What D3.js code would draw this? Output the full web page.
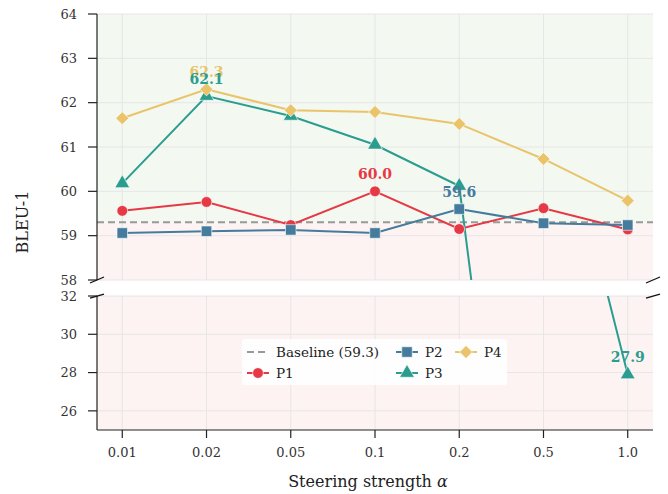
<!DOCTYPE html>
<html>
<head>
<meta charset="utf-8">
<script src="https://d3js.org/d3.v7.min.js"></script>
<style>
  body { margin: 0; background: #fff; }
  svg text { font-family: "DejaVu Serif", serif; }
</style>
</head>
<body>
<div id="chart"></div>
<script>
// data
var alphas = ["0.01", "0.02", "0.05", "0.1", "0.2", "0.5", "1.0"];
var p1 = [59.56, 59.76, 59.24, 60.0, 59.15, 59.62, 59.14];
var p2 = [59.06, 59.10, 59.13, 59.06, 59.60, 59.28, 59.24];
var p3 = [60.18, 62.15, 61.70, 61.05, 60.12, 45.3, 27.9];
var p4 = [61.65, 62.30, 61.83, 61.79, 61.52, 60.73, 59.79];
var baseline = 59.3;
var topTicks = [58, 59, 60, 61, 62, 63, 64];
var botTicks = [26, 28, 30, 32];

var series = [
  {name: "P1", values: p1, color: "#e63946", symbol: d3.symbolCircle, size: 90, rot: 0},
  {name: "P2", values: p2, color: "#457b9d", symbol: d3.symbolSquare, size: 110, rot: 0},
  {name: "P3", values: p3, color: "#2a9d8f", symbol: d3.symbolTriangle, size: 95, rot: 0},
  {name: "P4", values: p4, color: "#e9c46a", symbol: d3.symbolSquare, size: 85, rot: 45}
];
// which point gets a value label
var labels = [
  {s: 3, i: 1, text: "62.3"},
  {s: 2, i: 1, text: "62.1"},
  {s: 0, i: 3, text: "60.0"},
  {s: 1, i: 4, text: "59.6"},
  {s: 2, i: 6, text: "27.9"}
];

var W = 668, H = 494;
var left = 97, right = 653;
var topPanel = {y0: 14, y1: 280}, botPanel = {y0: 296, y1: 430};

var svg = d3.select("#chart").append("svg")
  .attr("width", W).attr("height", H);

var x = d3.scalePoint().domain(alphas).range([left, right]).padding(0.3);
var yTop = d3.scaleLinear().domain([58, 64]).range([topPanel.y1, topPanel.y0]);
var yBot = d3.scaleLinear().domain([25, 32]).range([botPanel.y1, botPanel.y0]);

var defs = svg.append("defs");
defs.append("clipPath").attr("id", "clipTop").append("rect")
  .attr("x", left).attr("y", topPanel.y0).attr("width", right - left).attr("height", topPanel.y1 - topPanel.y0);
defs.append("clipPath").attr("id", "clipBot").append("rect")
  .attr("x", left).attr("y", botPanel.y0).attr("width", right - left).attr("height", botPanel.y1 - botPanel.y0);

function drawPanel(y, ticks, clipId, isTop) {
  var g = svg.append("g");
  var dom = y.domain();
  // background shading
  if (isTop) {
    g.append("rect").attr("x", left).attr("width", right - left)
      .attr("y", y(dom[1])).attr("height", y(baseline) - y(dom[1]))
      .attr("fill", "#f3f8f1");
    g.append("rect").attr("x", left).attr("width", right - left)
      .attr("y", y(baseline)).attr("height", y(dom[0]) - y(baseline))
      .attr("fill", "#fdf3f2");
  } else {
    g.append("rect").attr("x", left).attr("width", right - left)
      .attr("y", y(dom[1])).attr("height", y(dom[0]) - y(dom[1]))
      .attr("fill", "#fdf3f2");
  }
  // grid
  g.selectAll(".hg").data(ticks).enter().append("line")
    .attr("x1", left).attr("x2", right)
    .attr("y1", function(d) { return y(d); }).attr("y2", function(d) { return y(d); })
    .attr("stroke", "#e6e6e6").attr("stroke-width", 1);
  g.selectAll(".vg").data(alphas).enter().append("line")
    .attr("x1", function(d) { return x(d); }).attr("x2", function(d) { return x(d); })
    .attr("y1", y(dom[1])).attr("y2", y(dom[0]))
    .attr("stroke", "#e6e6e6").attr("stroke-width", 1);

  var plot = g.append("g").attr("clip-path", "url(#" + clipId + ")");
  if (isTop) {
    plot.append("line")
      .attr("x1", left).attr("x2", right)
      .attr("y1", y(baseline)).attr("y2", y(baseline))
      .attr("stroke", "#999").attr("stroke-width", 2).attr("stroke-dasharray", "7,4");
  }
  var line = d3.line().x(function(d, i) { return x(alphas[i]); }).y(function(d) { return y(d); });
  series.forEach(function(s) {
    plot.append("path").datum(s.values)
      .attr("d", line).attr("fill", "none")
      .attr("stroke", s.color).attr("stroke-width", 2);
  });
  series.forEach(function(s) {
    var pts = s.values.map(function(v, i) { return {v: v, i: i}; })
      .filter(function(p) { return p.v >= dom[0] - 0.2 && p.v <= dom[1] + 0.2; });
    plot.selectAll(null).data(pts).enter().append("path")
      .attr("d", d3.symbol().type(s.symbol).size(s.size))
      .attr("transform", function(p) { return "translate(" + x(alphas[p.i]) + "," + y(p.v) + ") rotate(" + s.rot + ")"; })
      .attr("fill", s.color).attr("stroke", "#fff").attr("stroke-width", 0.6);
  });

  // y axis: spine, ticks, labels
  g.append("line").attr("x1", left).attr("x2", left)
    .attr("y1", y(dom[1])).attr("y2", y(dom[0])).attr("stroke", "#222").attr("stroke-width", 1.2);
  g.selectAll(".yt").data(ticks).enter().append("line")
    .attr("x1", left - 9).attr("x2", left)
    .attr("y1", function(d) { return y(d); }).attr("y2", function(d) { return y(d); })
    .attr("stroke", "#222").attr("stroke-width", 1.2);
  g.selectAll(".yl").data(ticks).enter().append("text")
    .attr("x", left - 20).attr("y", function(d) { return y(d); })
    .attr("dy", "0.36em").attr("text-anchor", "end")
    .attr("font-size", 13).attr("fill", "#333")
    .text(function(d) { return d; });
  return g;
}

drawPanel(yTop, topTicks, "clipTop", true);
drawPanel(yBot, botTicks, "clipBot", false);

// x axis on bottom panel
svg.append("line").attr("x1", left).attr("x2", right)
  .attr("y1", botPanel.y1).attr("y2", botPanel.y1).attr("stroke", "#222").attr("stroke-width", 1.2);
svg.selectAll(".xt").data(alphas).enter().append("line")
  .attr("x1", function(d) { return x(d); }).attr("x2", function(d) { return x(d); })
  .attr("y1", botPanel.y1).attr("y2", botPanel.y1 + 8)
  .attr("stroke", "#222").attr("stroke-width", 1.2);
svg.selectAll(".xl").data(alphas).enter().append("text")
  .attr("x", function(d) { return x(d); }).attr("y", 457)
  .attr("text-anchor", "middle").attr("font-size", 13).attr("fill", "#333")
  .text(function(d) { return d; });

// axis titles
var xt = svg.append("text").attr("x", 368).attr("y", 487)
  .attr("text-anchor", "middle").attr("font-size", 16).attr("fill", "#222");
xt.append("tspan").text("Steering strength ");
xt.append("tspan").attr("font-style", "italic").text("α");
svg.append("text")
  .attr("transform", "translate(28," + ((topPanel.y0 + botPanel.y1) / 2) + ") rotate(-90)")
  .attr("text-anchor", "middle").attr("font-size", 16).attr("fill", "#222")
  .text("BLEU-1");

// break marks
[left, right].forEach(function(bx) {
  svg.append("line").attr("x1", bx - 7).attr("x2", bx + 7)
    .attr("y1", topPanel.y1 + 3).attr("y2", topPanel.y1 - 3)
    .attr("stroke", "#111").attr("stroke-width", 1.3);
  svg.append("line").attr("x1", bx - 7).attr("x2", bx + 7)
    .attr("y1", botPanel.y0 + 2).attr("y2", botPanel.y0 - 2)
    .attr("stroke", "#111").attr("stroke-width", 1.3);
});

// value labels
labels.forEach(function(l) {
  var s = series[l.s], v = s.values[l.i];
  var y = v >= 58 ? yTop(v) : yBot(v);
  svg.append("text").attr("x", x(alphas[l.i])).attr("y", y - 12)
    .attr("text-anchor", "middle").attr("font-size", 14).attr("font-weight", "bold")
    .attr("fill", s.color).text(l.text);
});

// legend
var lg = svg.append("g");
lg.append("rect").attr("x", 242).attr("y", 339).attr("width", 265).attr("height", 46)
  .attr("rx", 3).attr("fill", "#fff").attr("fill-opacity", 0.9);
var items = [
  {label: "Baseline (59.3)", hx: 247, row: 0, dash: true},
  {label: "P1", hx: 247, row: 1, s: series[0]},
  {label: "P2", hx: 396, row: 0, s: series[1]},
  {label: "P3", hx: 396, row: 1, s: series[2]},
  {label: "P4", hx: 455, row: 0, s: series[3]}
];
items.forEach(function(it) {
  var cy = 352 + it.row * 21;
  if (it.dash) {
    lg.append("line").attr("x1", it.hx).attr("x2", it.hx + 22).attr("y1", cy).attr("y2", cy)
      .attr("stroke", "#999").attr("stroke-width", 2).attr("stroke-dasharray", "7,4");
  } else {
    lg.append("line").attr("x1", it.hx).attr("x2", it.hx + 22).attr("y1", cy).attr("y2", cy)
      .attr("stroke", it.s.color).attr("stroke-width", 2);
    lg.append("path").attr("d", d3.symbol().type(it.s.symbol).size(it.s.size))
      .attr("transform", "translate(" + (it.hx + 11) + "," + cy + ") rotate(" + it.s.rot + ")")
      .attr("fill", it.s.color).attr("stroke", "#fff").attr("stroke-width", 0.6);
  }
  lg.append("text").attr("x", it.hx + 29).attr("y", cy).attr("dy", "0.36em")
    .attr("font-size", 13.5).attr("fill", "#222").text(it.label);
});
</script>
</body>
</html>
